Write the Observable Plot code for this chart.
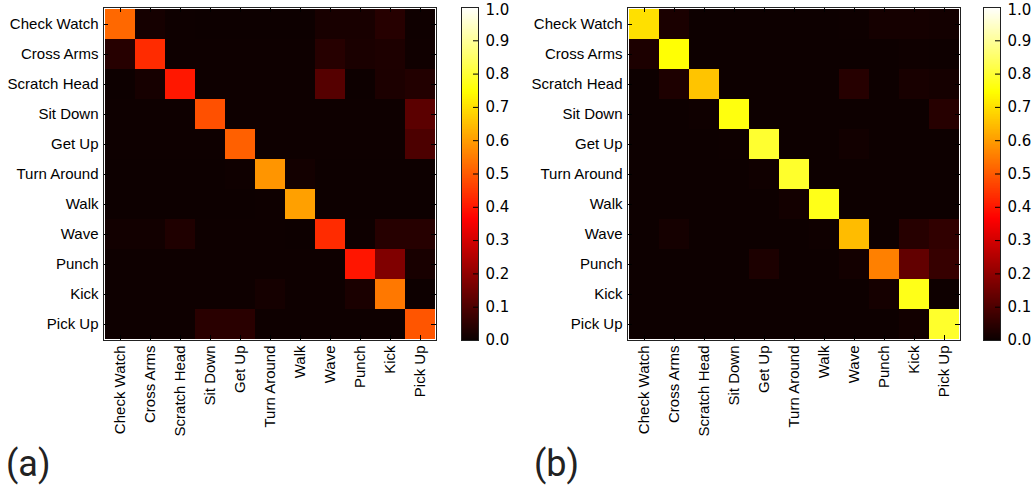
<!DOCTYPE html>
<html>
<head>
<meta charset="utf-8">
<script src="https://cdn.jsdelivr.net/npm/d3@7"></script>
<script src="https://cdn.jsdelivr.net/npm/@observablehq/plot@0.6"></script>
<style>
  html, body { margin: 0; padding: 0; background: #fff; }
  #root { position: relative; width: 1032px; height: 487px; overflow: hidden; }
  .piece { position: absolute; }
  .tag { position: absolute; font-family: Roboto, sans-serif; font-size: 36px; color: #222; line-height: 1; }
</style>
</head>
<body>
<div id="root"></div>
<script>
const categories = ["Check Watch","Cross Arms","Scratch Head","Sit Down","Get Up","Turn Around","Walk","Wave","Punch","Kick","Pick Up"];

const matrixA = [
  [0.52,0.015,0.004,0.003,0.003,0.003,0.003,0.02,0.02,0.04,0.006],
  [0.04,0.43,0.005,0.004,0.004,0.004,0.004,0.04,0.022,0.027,0.007],
  [0.003,0.016,0.40,0.004,0.004,0.004,0.004,0.11,0.003,0.025,0.035],
  [0.004,0.004,0.005,0.485,0.004,0.004,0.004,0.004,0.004,0.004,0.12],
  [0.004,0.004,0.004,0.004,0.508,0.004,0.004,0.004,0.004,0.004,0.098],
  [0.003,0.003,0.003,0.003,0.006,0.588,0.012,0.003,0.003,0.003,0.003],
  [0.003,0.003,0.003,0.003,0.003,0.004,0.604,0.003,0.003,0.003,0.003],
  [0.01,0.01,0.03,0.004,0.004,0.004,0.003,0.43,0.004,0.04,0.04],
  [0.004,0.004,0.004,0.004,0.004,0.004,0.004,0.004,0.396,0.175,0.02],
  [0.004,0.004,0.004,0.004,0.004,0.015,0.004,0.004,0.022,0.544,0.003],
  [0.004,0.004,0.004,0.045,0.045,0.004,0.004,0.004,0.004,0.004,0.492]
];

const matrixB = [
  [0.70,0.022,0.003,0.003,0.003,0.003,0.003,0.005,0.015,0.015,0.012],
  [0.025,0.75,0.003,0.003,0.003,0.003,0.003,0.003,0.003,0.006,0.004],
  [0.003,0.027,0.658,0.003,0.003,0.003,0.003,0.04,0.003,0.02,0.015],
  [0.003,0.003,0.006,0.76,0.003,0.003,0.003,0.003,0.003,0.003,0.04],
  [0.003,0.003,0.003,0.005,0.794,0.003,0.003,0.01,0.003,0.003,0.003],
  [0.003,0.003,0.003,0.003,0.007,0.79,0.003,0.003,0.003,0.003,0.003],
  [0.003,0.003,0.003,0.003,0.003,0.012,0.77,0.003,0.003,0.003,0.003],
  [0.003,0.015,0.003,0.003,0.003,0.003,0.006,0.646,0.003,0.04,0.055],
  [0.003,0.003,0.003,0.003,0.025,0.003,0.003,0.012,0.556,0.13,0.065],
  [0.003,0.003,0.003,0.003,0.003,0.003,0.003,0.003,0.015,0.77,0.004],
  [0.003,0.003,0.003,0.003,0.003,0.003,0.003,0.003,0.003,0.01,0.79]
];

const colorbarTicks = [0,0.1,0.2,0.3,0.4,0.5,0.6,0.7,0.8,0.9,1.0];
const panelLabels = ["(a)", "(b)"];

// matplotlib "hot" colormap as a piecewise linear scale
const hotColor = {
  type: "linear",
  domain: [0, 0.365079, 0.746032, 1],
  range: ["#0b0000", "#ff0000", "#ffff00", "#ffffff"],
  interpolate: "rgb"
};

const root = document.getElementById("root");

function place(node, left, top) {
  node.classList.add("piece");
  node.style.left = left + "px";
  node.style.top = top + "px";
  root.appendChild(node);
}

function heatmap(matrix) {
  const data = matrix.flatMap((row, i) => row.map((v, j) => ({truth: categories[i], pred: categories[j], v})));
  const tick = 5;
  const size = 333;
  return Plot.plot({
    width: 103 + size + 6,
    height: 7 + size + 110,
    marginLeft: 103,
    marginTop: 7,
    marginRight: 6,
    marginBottom: 110,
    style: {fontFamily: "'Liberation Sans', Arial, sans-serif", fontSize: "15px", color: "#000", background: "transparent"},
    x: {domain: categories, padding: 0, label: null},
    y: {domain: categories, padding: 0, label: null},
    color: hotColor,
    marks: [
      Plot.cell(data, {x: "pred", y: "truth", fill: "v", inset: 0, shapeRendering: "crispEdges"}),
      Plot.ruleX(categories, {x: d => d, insetBottom: size - tick, stroke: "#000"}),
      Plot.ruleX(categories, {x: d => d, insetTop: size - tick, stroke: "#000"}),
      Plot.ruleY(categories, {y: d => d, insetRight: size - tick, stroke: "#000"}),
      Plot.ruleY(categories, {y: d => d, insetLeft: size - tick, stroke: "#000"}),
      Plot.frame({stroke: "#222", strokeWidth: 1}),
      Plot.axisX({anchor: "bottom", tickSize: 0, tickPadding: 5, tickRotate: -90, label: null, fontSize: 15}),
      Plot.axisY({anchor: "left", tickSize: 0, tickPadding: 5, label: null, fontSize: 15})
    ]
  });
}

function colorbar() {
  const step = 0.0025;
  const stops = d3.range(0, 1, step);
  return Plot.plot({
    width: 17 + 45,
    height: 17 + 333 + 15,
    marginLeft: 0,
    marginRight: 45,
    marginTop: 17,
    marginBottom: 15,
    style: {fontFamily: "'DejaVu Sans', sans-serif", fontSize: "15px", color: "#000", background: "transparent"},
    y: {domain: [0, 1], label: null},
    color: hotColor,
    marks: [
      Plot.rectY(stops, {y1: d => d, y2: d => Math.min(1, d + step * 1.6), fill: d => d + step / 2, inset: 0, shapeRendering: "crispEdges"}),
      Plot.ruleY(colorbarTicks, {y: d => d, insetLeft: 17 - 5, stroke: "#000"}),
      Plot.frame({stroke: "#222"}),
      Plot.axisY(colorbarTicks.filter(d => d < 1), {anchor: "right", tickSize: 0, tickPadding: 7, tickFormat: d3.format(".1f"), label: null, fontSize: 15}),
      Plot.axisY(colorbarTicks.filter(d => d === 1), {anchor: "right", tickSize: 0, tickPadding: 7, tickFormat: d3.format(".1f"), label: null, fontSize: 15, dy: 2.5})
    ]
  });
}

place(heatmap(matrixA), 0, 0);
place(colorbar(), 461, -10);
place(heatmap(matrixB), 524, 0);
place(colorbar(), 983, -10);

panelLabels.forEach((t, i) => {
  const d = document.createElement("div");
  d.className = "tag";
  d.textContent = t;
  d.style.left = (i === 0 ? 6 : 534) + "px";
  d.style.top = "446px";
  root.appendChild(d);
});
</script>
</body>
</html>
